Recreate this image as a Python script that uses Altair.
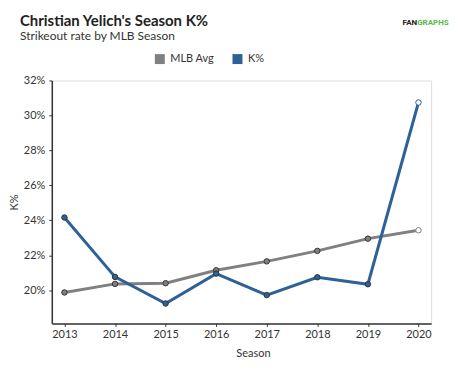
import altair as alt
import pandas as pd

seasons = [2013, 2014, 2015, 2016, 2017, 2018, 2019, 2020]
k_pct = [24.16, 20.76, 19.24, 20.95, 19.72, 20.74, 20.34, 30.74]
mlb_avg = [19.87, 20.36, 20.40, 21.14, 21.65, 22.25, 22.95, 23.43]
series_names = ["MLB Avg", "K%"]
series_colors = ["#808080", "#2d6198"]
y_ticks = [20, 22, 24, 26, 28, 30, 32]

title_text = "Christian Yelich's Season K%"
subtitle_text = "Strikeout rate by MLB Season"

rows = []
for s, v in zip(seasons, mlb_avg):
    rows.append({"Season": s, "Series": "MLB Avg", "Value": v})
for s, v in zip(seasons, k_pct):
    rows.append({"Season": s, "Series": "K%", "Value": v})
df = pd.DataFrame(rows)

FONT = "Lato"
W, H = 381, 244

color_scale = alt.Scale(domain=series_names, range=series_colors)
legend = alt.Legend(
    orient="none", legendX=103, legendY=-27, direction="horizontal",
    symbolType="square", symbolSize=25, symbolStrokeWidth=5, title=None,
    symbolOpacity=1,
    labelFontSize=11, labelColor="#333", labelFont=FONT,
    columnPadding=10, padding=0, labelOffset=5,
)

x_enc = alt.X(
    "Season:Q",
    scale=alt.Scale(domain=[2012.75, 2020.25], nice=False, zero=False),
    axis=alt.Axis(
        values=seasons, format="d", title="Season", grid=False,
        tickSize=3, labelPadding=2, labelFontSize=11, labelColor="#333",
        titleFontSize=11, titleFontWeight="normal", titleColor="#333",
        titleX=202, titleY=30, titleBaseline="middle",
        domainColor="#333", domainWidth=1.5, tickColor="#333",
    ),
)
y_enc = alt.Y(
    "Value:Q",
    scale=alt.Scale(domain=[18.1, 32], nice=False, zero=False),
    axis=alt.Axis(
        values=y_ticks, labelExpr="datum.value + '%'", title="K%", grid=False,
        tickSize=3, labelPadding=4, labelFontSize=11, labelColor="#333",
        titleFontSize=11, titleFontWeight="normal", titleColor="#333",
        titleX=-37, titleY=H / 2, titleAngle=270, titleAlign="center",
        titleBaseline="middle",
        domainColor="#333", domainWidth=1.5, tickColor="#333",
    ),
)

base = alt.Chart(df)

lines = base.mark_line(strokeWidth=3).encode(
    x=x_enc, y=y_enc,
    color=alt.Color("Series:N", scale=color_scale, legend=legend),
    detail="Series:N",
)

is_last = alt.datum.Season == 2020
points = base.mark_point(filled=True, size=30, strokeWidth=1, opacity=1).encode(
    x="Season:Q", y="Value:Q",
    fill=alt.condition(
        is_last, alt.value("white"),
        alt.Fill("Series:N", scale=color_scale, legend=None),
    ),
    stroke=alt.condition(
        is_last, alt.Stroke("Series:N", scale=color_scale, legend=None),
        alt.value("#333"),
    ),
)

one = pd.DataFrame({"t": [0]})
title = alt.Chart(one).mark_text(
    text=title_text, font=FONT, fontSize=15, fontWeight="bold", color="#222",
    align="left", baseline="alphabetic",
).encode(x=alt.value(-32), y=alt.value(-55))
subtitle = alt.Chart(one).mark_text(
    text=subtitle_text, font=FONT, fontSize=12, color="#333",
    align="left", baseline="alphabetic",
).encode(x=alt.value(-32), y=alt.value(-41))
logo1 = alt.Chart(one).mark_text(
    text="FAN", font="Roboto", fontSize=8, fontWeight="bold", color="#222",
    align="right", baseline="middle",
).encode(x=alt.value(367), y=alt.value(-58))
logo2 = alt.Chart(one).mark_text(
    text="GRAPHS", font="Roboto", fontSize=8, fontWeight="bold", color="#5cb947",
    align="left", baseline="middle",
).encode(x=alt.value(367), y=alt.value(-58))

chart = alt.layer(lines, points, title, subtitle, logo1, logo2).properties(
    width=W, height=H,
    autosize=alt.AutoSizeParams(type="none"),
    padding={"left": 44, "top": 72, "right": 25, "bottom": 45},
).resolve_legend(color="independent").configure_view(stroke=None).configure(font=FONT)

chart.save("out.html", embed_options={"renderer": "svg", "actions": False})
